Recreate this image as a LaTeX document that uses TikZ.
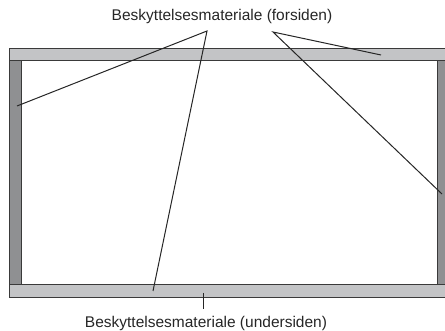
\documentclass[tikz,border=0pt]{standalone}
\usepackage{fontspec}
\setmainfont{Liberation Sans}
\begin{document}
\begin{tikzpicture}[x=1pt,y=-1pt,
  hbar/.style={fill=barlight,draw=bardark,line width=1pt},
  vbar/.style={fill=barmid,draw=bardark,line width=1pt},
  leader/.style={draw=black!85,line width=1pt},
  lbl/.style={font=\fontsize{15.5}{17}\selectfont,text=black!85,inner sep=0pt}]
\definecolor{barlight}{HTML}{C3C4C6}
\definecolor{barmid}{HTML}{8F9092}
\definecolor{bardark}{HTML}{3A3A3A}
\useasboundingbox (0,0) rectangle (445,331);
\begin{scope}
\clip (0,0) rectangle (445,331);
% side bars
\draw[vbar] (9,61) rectangle (21,285);
\draw[vbar] (437,61) rectangle (450,285);
% top and bottom bars
\draw[hbar] (9,49) rectangle (450,61);
\draw[hbar] (9,285) rectangle (450,298);
\end{scope}
% labels
\node[lbl,anchor=base] (top) at (222,21) {Beskyttelsesmateriale (forsiden)};
\node[lbl,anchor=base] (bot) at (206,327.5) {Beskyttelsesmateriale (undersiden)};
% leader points
\coordinate (ta) at (207,31);
\coordinate (tb) at (273,32);
\coordinate (pl) at (17,106);
\coordinate (pb) at (153,291);
\coordinate (pt) at (381,55);
\coordinate (pr) at (442,194);
\coordinate (bt) at (203,293);
\coordinate (bb) at (203,309);
\draw[leader] (pl) -- (ta) -- (pb);
\draw[leader] (pt) -- (tb) -- (pr);
\draw[leader] (bt) -- (bb);
\end{tikzpicture}
\end{document}
